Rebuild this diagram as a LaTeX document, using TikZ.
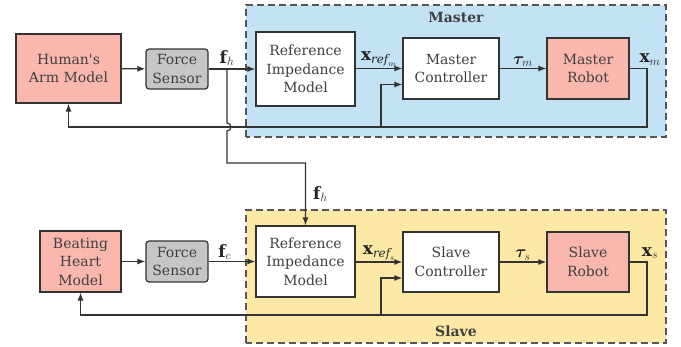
\documentclass[tikz,border=0pt]{standalone}
\usepackage{amsmath}
\usepackage{bm}
\usepackage{fontspec}
\setmainfont{DejaVu Serif}
\usepackage{xcolor}
\definecolor{masterblue}{HTML}{C3E3F5}
\definecolor{slaveyellow}{HTML}{FDE9A6}
\definecolor{salmon}{HTML}{F9B7AE}
\definecolor{sensorgray}{HTML}{C6C6C6}
\definecolor{linegray}{HTML}{333333}
\definecolor{dashgray}{HTML}{555555}
\usetikzlibrary{arrows.meta, positioning, calc}

\tikzset{
  block/.style={draw=linegray, line width=1.2pt, fill=white, align=center,
    inner sep=2pt, font=\fontsize{14}{18.5}\selectfont, text=black!75},
  plant/.style={block, fill=salmon},
  sensor/.style={block, fill=sensorgray, rounded corners=3pt},
  region/.style={draw=dashgray, line width=1.5pt, dash pattern=on 7pt off 4pt},
  sig/.style={draw=linegray, line width=1.2pt, -{Latex[length=8pt,width=6pt]}},
  lbl/.style={font=\fontsize{17}{19}\selectfont, inner sep=1pt, text=black!85},
}

\begin{document}
\begin{tikzpicture}[x=1pt, y=1pt]
  \useasboundingbox (0,0) rectangle (681,347);

  % --- Master side ---
  \fill[masterblue] (246,210) rectangle (666,342);
  \draw[region] (246,210) rectangle (666,342);
  \node[font=\fontsize{14}{16}\selectfont\bfseries, text=black!75] (mlabel) at (456,329) {Master};

  \node[plant, minimum width=105pt, minimum height=69pt] (arm) at (68.5,278.5) {Human\textquotesingle s\\Arm Model};
  \node[sensor, minimum width=62pt, minimum height=40pt] (fs1) at (177,278) {Force\\Sensor};
  \node[block, minimum width=99pt, minimum height=74pt] (ref1) at (305.5,278) {Reference\\Impedance\\Model};
  \node[block, minimum width=96pt, minimum height=61pt] (mctrl) at (451,278.5) {Master\\Controller};
  \node[plant, minimum width=82pt, minimum height=61pt] (mrobot) at (588,278.5) {Master\\Robot};

  \coordinate (fhsplit) at (227,278);
  \coordinate (fhturn) at (227,184);
  \coordinate (mfb) at (647,220);
  \coordinate (mtap) at (381,220);

  \draw[sig] (arm) -- (fs1);
  \draw[sig] (fs1) -- (ref1);
  \node[lbl, above=2pt] (fhtop) at (fhsplit) {$\mathbf{f}_{h}$};
  \draw[sig] (ref1.east |- mctrl.west) -- (mctrl.west)
    node[lbl, midway, above] (xrefm) {$\mathbf{x}_{\mathit{ref}_m}$};
  \draw[sig] (mctrl) -- (mrobot) node[lbl, midway, above] (taum) {$\bm{\tau}_{m}$};
  \draw[sig] (mrobot.east) -| (mfb) -| (arm.south);
  \node[lbl, above=2pt, xshift=3pt] (xm) at (mfb |- mrobot.east) {$\mathbf{x}_{m}$};
  \draw[sig] (mtap) |- ([yshift=-16pt]mctrl.west);

  % --- Slave side ---
  \fill[slaveyellow] (246,4) rectangle (666,137);
  \draw[region] (246,4) rectangle (666,137);
  \node[font=\fontsize{14}{16}\selectfont\bfseries, text=black!75] (slabel) at (456,16) {Slave};

  \node[plant, minimum width=81pt, minimum height=61pt] (heart) at (80.5,85.5) {Beating\\Heart\\Model};
  \node[sensor, minimum width=62pt, minimum height=41pt] (fs2) at (177,85.5) {Force\\Sensor};
  \node[block, minimum width=99pt, minimum height=71pt] (ref2) at (305.5,85.5) {Reference\\Impedance\\Model};
  \node[block, minimum width=96pt, minimum height=60pt] (sctrl) at (451,85) {Slave\\Controller};
  \node[plant, minimum width=82pt, minimum height=60pt] (srobot) at (588,85) {Slave\\Robot};

  \coordinate (sfb) at (647,32);
  \coordinate (stap) at (381,32);

  \draw[sig] (heart) -- (fs2);
  \draw[sig] (fs2) -- (ref2) node[lbl, pos=0.35, above] (fe) {$\mathbf{f}_{e}$};
  \draw[sig] (ref2.east |- sctrl.west) -- (sctrl.west)
    node[lbl, midway, above] (xrefs) {$\mathbf{x}_{\mathit{ref}_s}$};
  \draw[sig] (sctrl) -- (srobot) node[lbl, midway, above] (taus) {$\bm{\tau}_{s}$};
  \draw[sig] (srobot.east) -| (sfb) -| (heart.south);
  \node[lbl, above=2pt, xshift=3pt] (xs) at (sfb |- srobot.east) {$\mathbf{x}_{s}$};
  \draw[sig] (stap) |- ([yshift=-16pt]sctrl.west);

  % f_h goes down to the slave, hopping over the master feedback
  \draw[sig] (fhsplit) -- (227,224) arc[start angle=90, end angle=-90, radius=4]
    -- (fhturn) -| (ref2.north) node[lbl, pos=0.75, right=6pt] (fhlow) {$\mathbf{f}_{h}$};
\end{tikzpicture}
\end{document}
